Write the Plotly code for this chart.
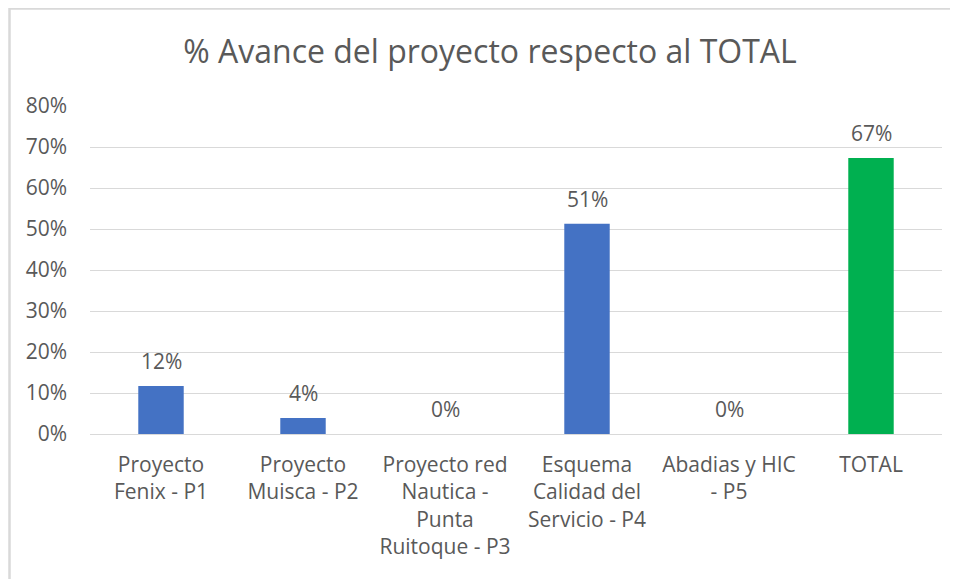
import plotly.graph_objects as go

categories = [
    "Proyecto<br>Fenix - P1",
    "Proyecto<br>Muisca - P2",
    "Proyecto red<br>Nautica -<br>Punta<br>Ruitoque - P3",
    "Esquema<br>Calidad del<br>Servicio - P4",
    "Abadias y HIC<br>- P5",
    "TOTAL",
]
values = [0.117, 0.039, 0.0, 0.513, 0.0, 0.673]
bar_colors = ["#4472C4", "#4472C4", "#4472C4", "#4472C4", "#4472C4", "#00B050"]
tick_vals = [0, 0.1, 0.2, 0.3, 0.4, 0.5, 0.6, 0.7, 0.8]
tick_text = ["0%", "10%", "20%", "30%", "40%", "50%", "60%", "70%", "80%"]

FONT = "Open Sans, sans-serif"
TXT = "#595959"
FS = 21

# page body has an 8px margin; figure coordinates below are page coords - 8
L, R_EDGE, T, B_EDGE = 82, 934, 98, 426
W, H = 950, 571
PW, PH = R_EDGE - L, B_EDGE - T

fig = go.Figure(go.Bar(
    x=categories, y=values,
    marker=dict(color=bar_colors, line=dict(width=0)),
    hoverinfo="x+y",
))

for c, v in zip(categories, values):
    fig.add_annotation(x=c, y=v, text=f"{v*100:.0f}%", showarrow=False,
                       yanchor="middle", yshift=25,
                       font=dict(family=FONT, size=FS, color=TXT))

fig.update_layout(
    width=W, height=H,
    margin=dict(l=L, r=W - R_EDGE, t=T, b=H - B_EDGE, pad=0),
    paper_bgcolor="white", plot_bgcolor="white",
    bargap=0.68,
    showlegend=False,
    title=dict(text="% Avance del proyecto respecto al TOTAL",
               x=482 / W, xanchor="center",
               y=1 - 44 / H, yanchor="middle",
               font=dict(family=FONT, size=32, color=TXT)),
    xaxis=dict(showgrid=False, showline=False, ticks="",
               ticklabelstandoff=16,
               tickfont=dict(family=FONT, size=FS, color=TXT)),
    yaxis=dict(range=[0, 0.8], tickvals=tick_vals, ticktext=tick_text,
               showgrid=True, gridcolor="#D9D9D9", gridwidth=1,
               zeroline=True, zerolinecolor="#D9D9D9", zerolinewidth=1,
               showline=False, ticks="", ticklabelstandoff=22,
               tickfont=dict(family=FONT, size=FS, color=TXT)),
    shapes=[
        dict(type="line", xref="paper", yref="paper",
             x0=(1 - L) / PW, x1=(W + 20 - L) / PW,
             y0=(B_EDGE - 0.5) / PH, y1=(B_EDGE - 0.5) / PH,
             line=dict(color="#D9D9D9", width=2.5)),
        dict(type="line", xref="paper", yref="paper",
             x0=(1.5 - L) / PW, x1=(1.5 - L) / PW,
             y0=(B_EDGE) / PH, y1=(B_EDGE - 700) / PH,
             line=dict(color="#D9D9D9", width=2.5)),
    ],
)

fig.write_html("out.html")
